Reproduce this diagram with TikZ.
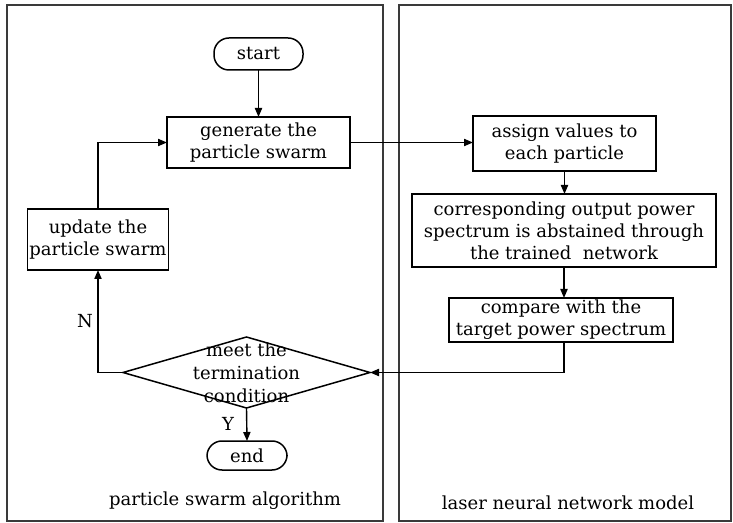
\documentclass[tikz,border=0pt]{standalone}
\usepackage{fontspec}
\setmainfont{DejaVu Serif}
\usepackage{xcolor}
\definecolor{frame}{HTML}{3A3A3A}
\usepackage{tikz}
\usetikzlibrary{arrows.meta, positioning, calc, shapes.geometric}

\begin{document}
\begin{tikzpicture}[
  x=0.5pt, y=-0.5pt,
  font=\fontsize{9}{11}\selectfont,
  every node/.style={inner sep=0pt, outer sep=0pt},
  box/.style={
    rectangle, draw, line width=0.75pt, align=center
  },
  terminal/.style={
    rectangle, draw, line width=0.75pt, rounded corners=7.5pt
  },
  decision/.style={
    diamond, draw, line width=0.75pt, inner sep=0pt,
    minimum width=123.5pt, minimum height=35.5pt
  },
  panel/.style={draw=frame, line width=0.75pt},
  flow/.style={-{Triangle[length=4.5pt,width=3.6pt]}, line width=0.7pt}
]
  \useasboundingbox (0,0) rectangle (733,523);

  % two panels
  \draw[panel] (7,5) rectangle (383,521);
  \draw[panel] (399,5) rectangle (731,521);

  % particle swarm side
  \node[terminal, minimum width=44.5pt, minimum height=16pt] (start) at (258.5,54) {start};
  \node[box, minimum width=91.5pt, minimum height=25.5pt] (gen) at (258.5,142.5)
    {generate the\\particle swarm};
  \node[box, minimum width=70.5pt, minimum height=30.5pt] (upd) at (98,239.5)
    {update the\\particle swarm};
  \node[decision] (cond) at (246.5,372.5)
    {\makebox[0pt]{\smash{\raisebox{-3.5pt}{\begin{tabular}{@{}c@{}}meet the\\[0.5pt]termination\\[0.5pt]condition\end{tabular}}}}};
  \node[terminal, minimum width=40pt, minimum height=14.5pt] (stop) at (247,455.5) {end};
  \node (lblN) at (85,321) {N};
  \node (lblY) at (228,424) {Y};
  \node (algo) at (225,501) {particle swarm algorithm};

  % network side
  \node[box, minimum width=91.5pt, minimum height=27.5pt] (assign) at (564.5,143.5)
    {assign values to\\each particle};
  \node[box, minimum width=152pt, minimum height=36.5pt] (corr) at (564,230.5)
    {corresponding output power\\spectrum is abstained through\\the trained\ \ network};
  \node[box, minimum width=112pt, minimum height=22pt] (comp) at (561,320)
    {compare with the\\target power spectrum};
  \node (model) at (568,503) {laser neural network model};

  % connectors
  \draw[flow] (start.south) -- (gen.north);
  \draw[flow] (upd.north) |- (gen.west);
  \draw[flow] (gen.east) -- (gen.east -| assign.west);
  \draw[flow] (assign.south) -- (assign.south |- corr.north);
  \draw[flow] (corr.south) -- (corr.south |- comp.north);
  \draw[flow] (comp.south -| corr.south) |- (cond.east);
  \draw[flow] (cond.west) -| (upd.south);
  \draw[flow] (cond.south) -- (stop.north);
\end{tikzpicture}
\end{document}
